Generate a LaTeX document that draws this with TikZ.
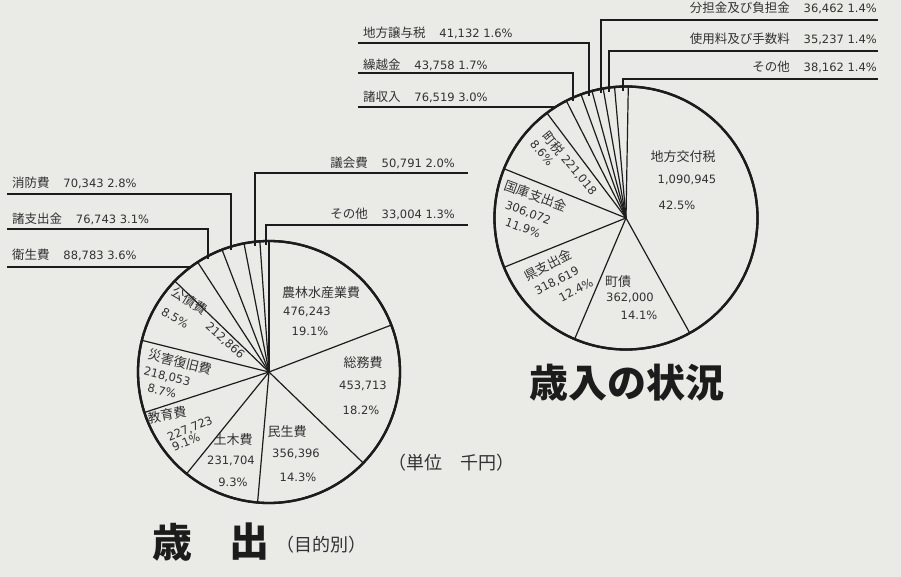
\documentclass[tikz,border=0pt]{standalone}
\usepackage{fontspec}
\setmainfont{Noto Sans CJK JP}
\newfontfamily\numfont{DejaVu Sans}
\newcommand{\numtxt}[1]{{\numfont\fontsize{11.5}{12}\selectfont #1}}
\definecolor{paper}{RGB}{234,234,231}
\definecolor{inkc}{RGB}{28,28,28}
\definecolor{txtc}{RGB}{50,50,50}
\tikzset{
  rim/.style={draw=inkc, line width=2.3pt, circle, inner sep=0pt, outer sep=0pt, minimum size=#1},
  spoke/.style={draw=inkc, line width=1.2pt},
  leader/.style={draw=inkc, line width=1.2pt},
  olbl/.style={text=txtc, inner sep=0pt, font=\fontsize{12.5}{13}\selectfont},
  ilbl/.style={text=txtc, inner sep=0pt, font=\fontsize{13}{14}\selectfont},
  ttl/.style={text=inkc, inner sep=0pt, font=\fontsize{40}{40}\selectfont\bfseries},
  sub/.style={text=txtc, inner sep=0pt, font=\fontsize{18}{18}\selectfont},
}
\begin{document}
\begin{tikzpicture}[x=1pt,y=-1pt]
\fill[paper] (0,0) rectangle (901,577);
\useasboundingbox (0,0) rectangle (901,577);

% ---------------- left pie (歳出) ----------------
\coordinate (L) at (269,372);
\node[rim=262pt] (Lpie) at (L) {};
\foreach \a in {90,21.24,-44.28,-95.76,-129.24,-162.0,166.68,136.08,123.12,111.96,101.88,94.68}
  \draw[spoke] (L) -- (Lpie.\a);
\node[rim=262pt] at (L) {};

\node[ilbl] (l1a) at (321,293) {農林水産業費};
\node[ilbl] (l1b) at (307,312) {\numtxt{476,243}};
\node[ilbl] (l1c) at (310,331) {\numtxt{19.1\%}};
\node[ilbl] (l2a) at (363,363) {総務費};
\node[ilbl] (l2b) at (363,386) {\numtxt{453,713}};
\node[ilbl] (l2c) at (361,410) {\numtxt{18.2\%}};
\node[ilbl] (l3a) at (287,432) {民生費};
\node[ilbl] (l3b) at (296,454) {\numtxt{356,396}};
\node[ilbl] (l3c) at (298,477) {\numtxt{14.3\%}};
\node[ilbl] (l4a) at (233,440) {土木費};
\node[ilbl] (l4b) at (231,461) {\numtxt{231,704}};
\node[ilbl] (l4c) at (233,482) {\numtxt{9.3\%}};
\node[ilbl, rotate=10] (l5a) at (167,415) {教育費};
\node[ilbl, rotate=22] (l5b) at (190,429) {\numtxt{227,723}};
\node[ilbl, rotate=22] (l5c) at (186,442) {\numtxt{9.1\%}};
\node[ilbl, rotate=-14] (l6a) at (180,362) {災害復旧費};
\node[ilbl, rotate=-14] (l6b) at (167,377) {\numtxt{218,053}};
\node[ilbl, rotate=-14] (l6c) at (162,391) {\numtxt{8.7\%}};
\node[ilbl, rotate=-32] (l7a) at (190,301) {公債費};
\node[ilbl, rotate=-42] (l7b) at (225,341) {\numtxt{212,866}};
\node[ilbl, rotate=-30] (l7c) at (175,318) {\numtxt{8.5\%}};

% outside labels (left pie)
\node[olbl, anchor=west] (o1) at (12,183) {消防費\hspace{1.1em}\numtxt{70,343 2.8\%}};
\node[olbl, anchor=west] (o2) at (12,219) {諸支出金\hspace{1.1em}\numtxt{76,743 3.1\%}};
\node[olbl, anchor=west] (o3) at (12,255) {衛生費\hspace{1.1em}\numtxt{88,783 3.6\%}};
\node[olbl, anchor=east] (o4) at (455,163) {議会費\hspace{1.1em}\numtxt{50,791 2.0\%}};
\node[olbl, anchor=east] (o5) at (455,214) {その他\hspace{1.1em}\numtxt{33,004 1.3\%}};

\coordinate (a1) at (7,194);   \coordinate (b1) at (231,250);
\coordinate (a2) at (7,229);   \coordinate (b2) at (208,259);
\coordinate (a3) at (7,267);   \coordinate (b3) at (191,267);
\coordinate (a4) at (468,173); \coordinate (b4) at (255,246);
\coordinate (a5) at (468,225); \coordinate (b5) at (266,245);
\draw[leader] (a1) -| (b1);
\draw[leader] (a2) -| (b2);
\draw[leader] (a3) -- (b3);
\draw[leader] (a4) -| (b4);
\draw[leader] (a5) -| (b5);

% ---------------- right pie (歳入) ----------------
\coordinate (R) at (626,218);
\node[rim=263pt] (Rpie) at (R) {};
\foreach \a in {89,-61,-113.76,-158.4,158.76,127.8,117.0,110.88,105.12,100.08,95.04}
  \draw[spoke] (R) -- (Rpie.\a);
\node[rim=263pt] at (R) {};

\node[ilbl] (r1a) at (683,157) {地方交付税};
\node[ilbl] (r1b) at (687,180) {\numtxt{1,090,945}};
\node[ilbl] (r1c) at (677,205) {\numtxt{42.5\%}};
\node[ilbl] (r2a) at (618,282) {町債};
\node[ilbl] (r2b) at (630,298) {\numtxt{362,000}};
\node[ilbl] (r2c) at (639,315) {\numtxt{14.1\%}};
\node[ilbl, rotate=27] (r3a) at (548,265) {県支出金};
\node[ilbl, rotate=27] (r3b) at (557,281) {\numtxt{318,619}};
\node[ilbl, rotate=27] (r3c) at (576,290) {\numtxt{12.4\%}};
\node[ilbl, rotate=-20] (r4a) at (536,196) {国庫支出金};
\node[ilbl, rotate=-20] (r4b) at (528,213) {\numtxt{306,072}};
\node[ilbl, rotate=-20] (r4c) at (523,228) {\numtxt{11.9\%}};
\node[ilbl, rotate=-50] (r5a) at (570,163) {町税\hspace{0.3em}\numtxt{221,018}};
\node[ilbl, rotate=-50] (r5b) at (542,153) {\numtxt{8.6\%}};

% outside labels (right pie)
\node[olbl, anchor=west] (p1) at (363,33) {地方譲与税\hspace{1.1em}\numtxt{41,132 1.6\%}};
\node[olbl, anchor=west] (p2) at (363,65) {繰越金\hspace{1.1em}\numtxt{43,758 1.7\%}};
\node[olbl, anchor=west] (p3) at (363,97) {諸収入\hspace{1.1em}\numtxt{76,519 3.0\%}};
\node[olbl, anchor=east] (p4) at (877,8) {分担金及び負担金\hspace{1.1em}\numtxt{36,462 1.4\%}};
\node[olbl, anchor=east] (p5) at (877,39) {使用料及び手数料\hspace{1.1em}\numtxt{35,237 1.4\%}};
\node[olbl, anchor=east] (p6) at (877,67) {その他\hspace{1.1em}\numtxt{38,162 1.4\%}};

\coordinate (c1) at (358,43);  \coordinate (d1) at (589,96);
\coordinate (c2) at (358,73);  \coordinate (d2) at (573,101);
\coordinate (c3) at (358,107); \coordinate (d3) at (555,107);
\coordinate (c4) at (878,20);  \coordinate (d4) at (601,93);
\coordinate (c5) at (878,51);  \coordinate (d5) at (609,92);
\coordinate (c6) at (878,79);  \coordinate (d6) at (623,91);
\draw[leader] (c1) -| (d1);
\draw[leader] (c2) -| (d2);
\draw[leader] (c3) -- (d3);
\draw[leader] (c4) -| (d4);
\draw[leader] (c5) -| (d5);
\draw[leader] (c6) -| (d6);

% ---------------- titles ----------------
\node[ttl, anchor=west, font=\fontsize{39}{40}\selectfont\bfseries] (tin) at (529,383) {歳入の状況};
\node[ttl] (tsai) at (172,542) {歳};
\node[ttl] (tshu) at (249,542) {出};
\node[sub, anchor=west] (tmoku) at (276,545) {（目的別）};
\node[sub, anchor=west] (tunit) at (388,463) {（単位　千円）};
\end{tikzpicture}
\end{document}
